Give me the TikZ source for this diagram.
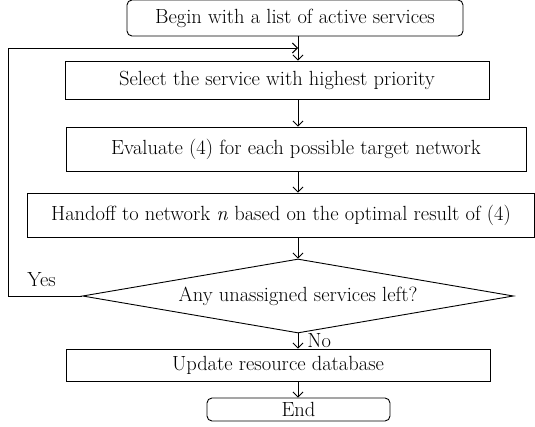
\documentclass[tikz,border=0pt]{standalone}
\usetikzlibrary{shapes.geometric}
\usetikzlibrary{arrows.meta}
\newcommand{\chartfont}{\fontsize{20.5}{24}\selectfont}
\newcommand{\spinex}{298}
\tikzset{
    common/.style={draw, rectangle, inner sep=0pt, font=\chartfont},
    terminal/.style={common, rounded corners=5pt},
    process/.style={common},
    decision/.style={common, diamond, aspect=5.8},
    answer/.style={inner sep=0pt, font=\chartfont},
    flow/.style={-{Straight Barb[length=5pt, width=10pt]}}
}
\begin{document}
\begin{tikzpicture}[x=1pt, y=-1pt, line width=0.9pt]
    \useasboundingbox (0,0) rectangle (535,427);
    \node[terminal, minimum width=336pt, minimum height=36pt] (begin) at (295,18) {Begin with a list of active services};
    \node[process, minimum width=424pt, minimum height=38pt] (select) at (277,80) {Select the service with highest priority};
    \node[process, minimum width=460pt, minimum height=44pt] (evaluate) at (296,149) {Evaluate (4) for each possible target network};
    \node[process, minimum width=507pt, minimum height=44pt] (handoff) at (281,215) {Handoff to network \textit{n} based on the optimal result of (4)};
    \node[decision, minimum width=431pt, minimum height=74pt] (left) at (\spinex,296) {Any unassigned services left?};
    \node[process, minimum width=424pt, minimum height=32pt] (update) at (278,365) {Update resource database};
    \node[terminal, minimum width=183pt, minimum height=23pt] (end) at (298.5,409.5) {End};

    \coordinate (spine) at (\spinex,0);
    \coordinate (loop-bottom) at (8,296);
    \coordinate (loop-top) at (8,48);

    \draw[flow] (begin.south -| spine) -- (select.north -| spine);
    \draw[flow] (select.south -| spine) -- (evaluate.north -| spine);
    \draw[flow] (evaluate.south -| spine) -- (handoff.north -| spine);
    \draw[flow] (handoff.south -| spine) -- (left.north);
    \draw[flow] (left.south) -- (update.north -| spine);
    \draw[flow] (update.south -| spine) -- (end.north -| spine);
    \draw[flow] (left.west) -- (loop-bottom) -- (loop-top) -- (loop-top -| spine);
    \node[answer, anchor=base west] (yes) at (27,287) {Yes};
    \node[answer, anchor=base west] (no) at (307,347) {No};
\end{tikzpicture}
\end{document}
